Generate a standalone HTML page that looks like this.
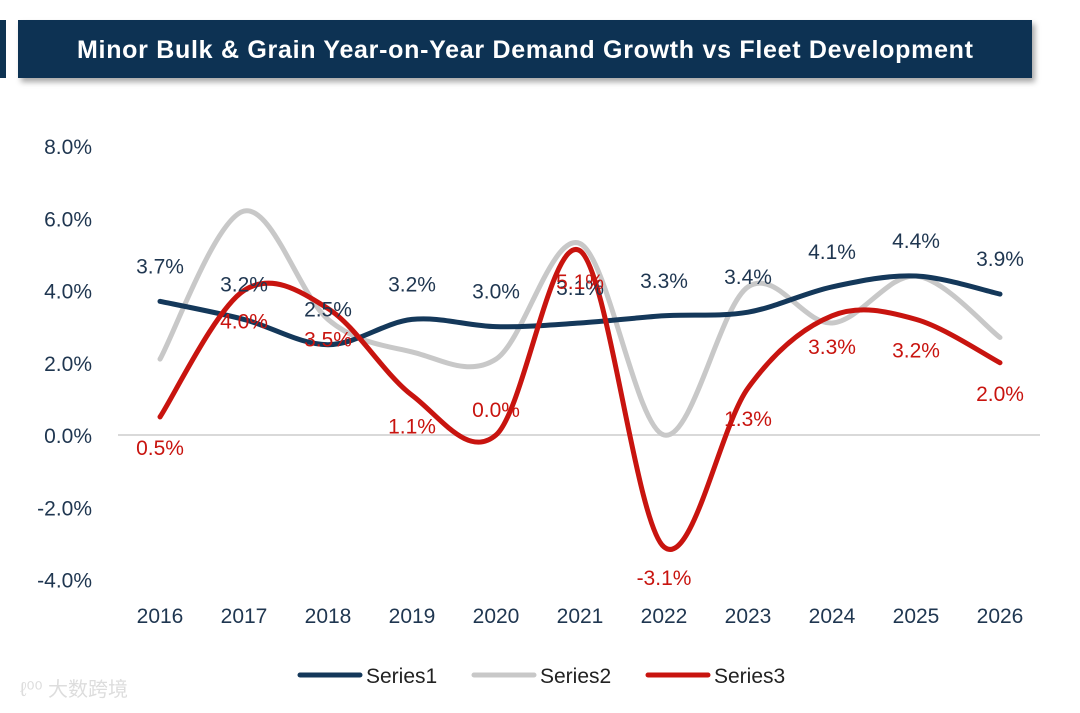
<!DOCTYPE html>
<html><head><meta charset="utf-8"><style>
body{margin:0;background:#fff;width:1080px;height:708px;overflow:hidden;font-family:"Liberation Sans","Noto Sans CJK SC",sans-serif}
</style></head><body>
<svg width="1080" height="708" xmlns="http://www.w3.org/2000/svg" id="svg">
<defs><filter id="sh" x="-5%" y="-20%" width="110%" height="160%"><feDropShadow dx="3" dy="4" stdDeviation="3" flood-color="#000" flood-opacity="0.35"/></filter></defs>
<rect x="0" y="20" width="6" height="58" fill="#0e3352"/>
<rect x="18" y="20" width="1014" height="58" fill="#0e3352" filter="url(#sh)"/>
<text x="525" y="58" text-anchor="middle" fill="#fff" font-size="25" font-weight="bold" textLength="896" lengthAdjust="spacing">Minor Bulk &amp; Grain Year-on-Year Demand Growth vs Fleet Development</text>
<g id="axes"></g>
<g id="plot"></g>
<g id="legend">
<line x1="300" y1="675" x2="360" y2="675" stroke="#14385a" stroke-width="5" stroke-linecap="round"/>
<text x="366" y="683" font-size="21" fill="#222">Series1</text>
<line x1="474" y1="675" x2="534" y2="675" stroke="#c8c8c8" stroke-width="5" stroke-linecap="round"/>
<text x="540" y="683" font-size="21" fill="#222">Series2</text>
<line x1="648" y1="675" x2="708" y2="675" stroke="#c8140f" stroke-width="5" stroke-linecap="round"/>
<text x="714" y="683" font-size="21" fill="#222">Series3</text>
</g>
<text x="20" y="696" font-size="20" fill="#ddd">ℓ⁰⁰ 大数跨境</text>
</svg>
<script>
const categories=["2016","2017","2018","2019","2020","2021","2022","2023","2024","2025","2026"];
const series1=[3.7,3.2,2.5,3.2,3.0,3.1,3.3,3.4,4.1,4.4,3.9];
const series2=[2.1,6.2,3.2,2.3,2.1,5.3,0.0,4.1,3.1,4.4,2.7];
const series3=[0.5,4.0,3.5,1.1,0.0,5.1,-3.1,1.3,3.3,3.2,2.0];
const yTicks=[8,6,4,2,0,-2,-4];
const NS="http://www.w3.org/2000/svg";
const x=i=>160+i*84;
const y=v=>435-v*36.125;
const axes=document.getElementById('axes'),plot=document.getElementById('plot');
function mk(t,a,p){const e=document.createElementNS(NS,t);for(const k in a)e.setAttribute(k,a[k]);p.appendChild(e);return e;}
const g=mk('line',{x1:118,x2:1040,y1:y(0),y2:y(0),stroke:'#d9d9d9','stroke-width':2},axes);


yTicks.forEach(v=>{const t=mk('text',{x:92,y:y(v)+8,'text-anchor':'end','font-size':21,fill:'#1f3650'},axes);t.textContent=v.toFixed(1)+'%';

});
categories.forEach((c,i)=>{const t=mk('text',{x:x(i),y:623,'text-anchor':'middle','font-size':21,fill:'#1f3650'},axes);t.textContent=c;

});
function path(vals){const p=vals.map((v,i)=>[x(i),y(v)]);let d=`M${p[0][0]},${p[0][1]}`;
for(let i=0;i<p.length-1;i++){const p0=p[i-1]||p[i],p1=p[i],p2=p[i+1],p3=p[i+2]||p2;const k=1/6;
d+=` C${p1[0]+(p2[0]-p0[0])*k},${p1[1]+(p2[1]-p0[1])*k} ${p2[0]-(p3[0]-p1[0])*k},${p2[1]-(p3[1]-p1[1])*k} ${p2[0]},${p2[1]}`;}return d;}
[[series2,'#c8c8c8','series2-line'],[series1,'#14385a','series1-line'],[series3,'#c8140f','series3-line']].forEach(([s,c,n])=>{
const e=mk('path',{d:path(s),fill:'none',stroke:c,'stroke-width':5,'stroke-linecap':'round'},plot);

});
series1.forEach((v,i)=>{const t=mk('text',{x:x(i),y:y(v)-28,'text-anchor':'middle','font-size':21,fill:'#1f3650'},plot);t.textContent=v.toFixed(1)+'%';

});
series3.forEach((v,i)=>{const t=mk('text',{x:x(i),y:y(v)+(i===4?-18:38),'text-anchor':'middle','font-size':21,fill:'#c8140f'},plot);t.textContent=v.toFixed(1)+'%';

});
</script>
</body></html>
